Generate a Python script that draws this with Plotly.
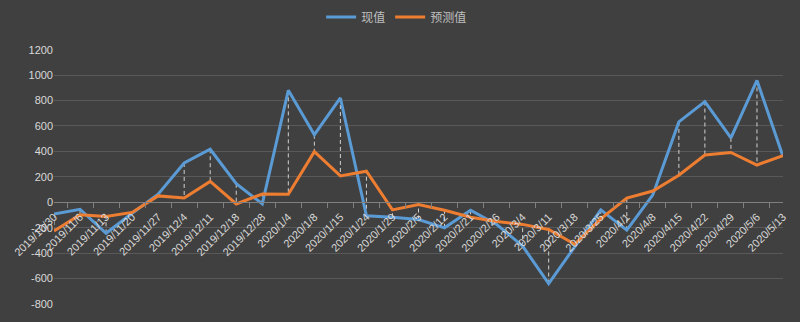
import plotly.graph_objects as go

# Weekly reporting dates
dates = [
    "2019/10/30", "2019/11/6", "2019/11/13", "2019/11/20", "2019/11/27",
    "2019/12/4", "2019/12/11", "2019/12/18", "2019/12/28", "2020/1/4",
    "2020/1/8", "2020/1/15", "2020/1/24", "2020/1/29", "2020/2/5",
    "2020/2/12", "2020/2/21", "2020/2/26", "2020/3/4", "2020/3/11",
    "2020/3/18", "2020/3/25", "2020/4/1", "2020/4/8", "2020/4/15",
    "2020/4/22", "2020/4/29", "2020/5/6", "2020/5/13",
]

# 现值 (actual)
actual = [
    -93, -55, -244, -86, 63, 309, 417, 146, -13, 880,
    531, 820, -106, -118, -136, -201, -63, -174, -345, -639,
    -350, -60, -219, 58, 632, 792, 506, 958, 360,
]

# 预测值 (forecast)
forecast = [
    -226, -98, -111, -80, 50, 33, 164, -13, 65, 63,
    398, 207, 244, -60, -18, -63, -118, -151, -174, -214,
    -330, -131, 33, 88, 212, 372, 392, 293, 367,
]

y_ticks = [-800, -600, -400, -200, 0, 200, 400, 600, 800, 1000, 1200]

BG = "#404040"
GRID = "#595959"
TEXT = "#D9D9D9"
BLUE = "#5B9BD5"
ORANGE = "#ED7D31"

# High-low connectors between the two series at each date
hl_x, hl_y = [], []
for d, a, f in zip(dates, actual, forecast):
    hl_x += [d, d, None]
    hl_y += [a, f, None]

fig = go.Figure()
fig.add_trace(go.Scatter(
    x=hl_x, y=hl_y, mode="lines", showlegend=False, hoverinfo="skip",
    line=dict(color="#D0D0D0", width=1, dash="4px,3px"),
))
fig.add_trace(go.Scatter(
    x=dates, y=actual, mode="lines", name="现值",
    line=dict(color=BLUE, width=3),
))
fig.add_trace(go.Scatter(
    x=dates, y=forecast, mode="lines", name="预测值",
    line=dict(color=ORANGE, width=3),
))

fig.update_layout(
    width=800, height=322,
    paper_bgcolor=BG, plot_bgcolor=BG,
    margin=dict(l=48, r=15, t=42, b=15),
    font=dict(family="Liberation Sans, Noto Sans CJK SC", size=11, color=TEXT),
    legend=dict(
        orientation="h", x=0.47, xanchor="center",
        y=1 - 17 / 322, yanchor="middle", yref="container",
        font=dict(family="Noto Sans CJK SC", size=12, color="#BFBFBF"),
        bgcolor="rgba(0,0,0,0)", itemwidth=30, tracegroupgap=0,
    ),
    showlegend=True,
)

fig.update_xaxes(
    type="category", categoryorder="array", categoryarray=dates,
    tickson="boundaries", dtick=1, tickangle=-45,
    anchor="free", position=0.4,
    showline=True, linecolor="#7F7F7F", linewidth=1,
    ticks="outside", ticklen=5, tickcolor="#7F7F7F",
    ticklabelstandoff=3,
    showgrid=False, zeroline=False,
    tickfont=dict(size=11, color=TEXT),
)

fig.update_yaxes(
    range=[-800, 1200], tickmode="array", tickvals=y_ticks,
    ticktext=[str(v) for v in y_ticks],
    showgrid=True, gridcolor=GRID, gridwidth=1,
    zeroline=False, showline=False, ticks="",
    tickfont=dict(size=11, color=TEXT),
)

fig.write_html("out.html")
